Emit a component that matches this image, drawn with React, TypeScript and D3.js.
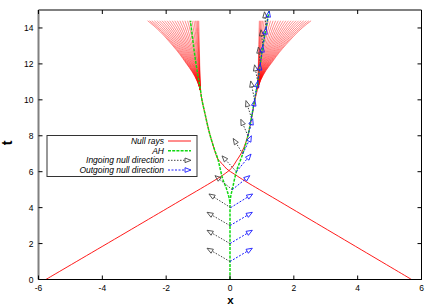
import React from 'react';
import * as d3 from 'd3';

type Pt = [number, number];

const W = 436;
const H = 305;

// axis ticks
const xTicks = [-6, -4, -2, 0, 2, 4, 6];
const tTicks = [0, 2, 4, 6, 8, 10, 12, 14];

// null ray trunks (x, t)
const rayRightward: Pt[] = [
  [-5.77, 0], [-1.5, 4.45], [-0.5, 5.5], [-0.15, 5.9], [0.05, 6.2], [0.2, 6.6],
  [0.36, 7.05], [0.5, 7.65], [0.6, 8.3], [0.7, 9.2], [0.78, 10.0], [0.87, 10.65],
];
const rayLeftward: Pt[] = [
  [5.69, 0], [1.5, 4.4], [0.5, 5.45], [0.15, 5.85], [-0.1, 6.15], [-0.25, 6.45],
  [-0.38, 6.7], [-0.5, 7.3], [-0.65, 8.2], [-0.78, 9.2], [-0.88, 10.0], [-0.93, 10.55],
];

// fans of rays peeling off the horizons
const fanLeftTip: Pt = [-0.93, 10.55];
const fanLeftTop: Pt = [-0.98, 14.4];
const fanRightTip: Pt = [0.87, 10.65];
const fanRightTop: Pt = [0.92, 14.4];
const fanLeftOffsets = [0, 0.03, 0.06, 0.1, 0.15, 0.21, 0.28, 0.35, 0.43, 0.51, 0.59, 0.67, 0.75, 0.83, 0.91, 0.99, 1.07, 1.15, 1.23, 1.31, 1.39, 1.47, 1.54, 1.6];
const fanRightOffsets = [0, 0.03, 0.06, 0.1, 0.15, 0.21, 0.28, 0.35, 0.43, 0.51, 0.59, 0.67, 0.75, 0.83, 0.91, 0.99, 1.07, 1.15, 1.23, 1.31, 1.39, 1.47, 1.55, 1.62];
// shape of the peel: fraction up the fan vs fraction of final offset
const fanProfile: Pt[] = [
  [0, 0], [0.13, 0.06], [0.26, 0.15], [0.39, 0.27], [0.52, 0.39],
  [0.65, 0.53], [0.78, 0.68], [0.9, 0.84], [1, 1],
];

// apparent horizon
const ahTrunk: Pt[] = [[0, 0], [0, 4.3]];
const ahLeft: Pt[] = [
  [0, 4.3], [-0.05, 4.7], [-0.12, 5.1], [-0.22, 5.55], [-0.3, 6.1], [-0.38, 6.7],
  [-0.5, 7.3], [-0.65, 8.2], [-0.78, 9.2], [-0.88, 10.0], [-0.93, 10.6],
  [-1.02, 11.5], [-1.12, 12.7], [-1.24, 14.4],
];
const ahRight: Pt[] = [
  [0, 4.3], [0.03, 4.7], [0.07, 5.0], [0.2, 6.0], [0.4, 7.0], [0.56, 8.0],
  [0.67, 9.0], [0.77, 10.0], [0.87, 11.0], [0.95, 12.0], [1.03, 13.0],
  [1.13, 14.0], [1.23, 15.0],
];

// null direction vectors on the AH
const arrowBase: Pt[] = [
  [0, 1], [0, 2], [0, 3], [0.02, 4], [0.07, 5], [0.2, 6], [0.4, 7],
  [0.56, 8], [0.67, 9], [0.77, 10], [0.87, 11], [0.95, 12], [1.03, 13], [1.13, 14],
];
const ingoingDir: Pt[] = [
  [-0.72, 0.74], [-0.72, 0.74], [-0.72, 0.74], [-0.68, 0.76], [-0.54, 0.78], [-0.45, 0.88],
  [-0.3, 0.85], [-0.22, 0.92], [-0.17, 0.96], [-0.12, 1.05], [-0.1, 0.95], [-0.06, 0.94],
  [-0.06, 0.9], [-0.05, 0.9],
];
const outgoingDir: Pt[] = [
  [0.7, 0.74], [0.7, 0.74], [0.7, 0.74], [0.69, 0.76], [0.55, 0.78], [0.46, 0.98],
  [0.27, 1.0], [0.15, 0.95], [0.11, 1.0], [0.1, 1.05], [0.08, 1.0], [0.08, 1.0],
  [0.1, 1.0], [0.1, 0.95],
];

const legendItems = ['Null rays', 'AH', 'Ingoing null direction', 'Outgoing null direction'];

const RED = '#ff0000';
const GREEN = '#11d911';
const GRAY = '#444444';
const BLUE = '#1a1aff';

const xs = d3.scaleLinear().domain([-6, 6]).range([38.5, 421.5]);
const ys = d3.scaleLinear().domain([0, 15]).range([279.5, 10]);

const line = d3.line<Pt>().x(d => xs(d[0])).y(d => ys(d[1]));
const smooth = d3.line<Pt>().x(d => xs(d[0])).y(d => ys(d[1])).curve(d3.curveCatmullRom.alpha(0.5));

function fanPath(tip: Pt, top: Pt, offset: number, sign: number) {
  const pts: Pt[] = fanProfile.map(([f, p]) => {
    const cx = tip[0] + (top[0] - tip[0]) * f;
    const t = tip[1] + (top[1] - tip[1]) * f;
    return [cx + sign * offset * p, t];
  });
  return smooth(pts) || '';
}

function Arrow({ base, dir, color, dash }: { base: Pt; dir: Pt; color: string; dash: string }) {
  const x0 = xs(base[0]);
  const y0 = ys(base[1]);
  const x1 = xs(base[0] + dir[0]);
  const y1 = ys(base[1] + dir[1]);
  const a = Math.atan2(y1 - y0, x1 - x0);
  const len = 6;
  const hw = 2.3;
  const bx = x1 - len * Math.cos(a);
  const by = y1 - len * Math.sin(a);
  const px = -Math.sin(a) * hw;
  const py = Math.cos(a) * hw;
  return (
    <g>
      <line x1={x0} y1={y0} x2={bx} y2={by} stroke={color} strokeWidth={1} strokeDasharray={dash} />
      <path d={`M${x1},${y1}L${bx + px},${by + py}L${bx - px},${by - py}Z`} fill="none" stroke={color} strokeWidth={0.9} />
    </g>
  );
}

export default function App() {
  const font = '"Liberation Sans", Arial, Helvetica, sans-serif';
  const left = xs(-6), right = xs(6), top = ys(15), bottom = ys(0);
  const legend = { x0: 47, x1: 197, y0: 135.5, y1: 176.5, rows: [141, 150.7, 160.3, 170], textX: 164, s0: 168, s1: 191 };

  return (
    <svg width={W} height={H} style={{ position: 'absolute', left: 0, top: 0, background: '#fff' }} fontFamily={font}>
      <rect width={W} height={H} fill="#fff" />
      <defs>
        <clipPath id="plot">
          <rect x={left} y={top} width={right - left} height={bottom - top} />
        </clipPath>
      </defs>

      <g clipPath="url(#plot)">
        {/* null rays */}
        <path d={smooth(rayRightward) || ''} fill="none" stroke={RED} strokeWidth={0.9} />
        <path d={smooth(rayLeftward) || ''} fill="none" stroke={RED} strokeWidth={0.9} />
        {fanLeftOffsets.map((o, i) => (
          <path key={'fl' + i} d={fanPath(fanLeftTip, fanLeftTop, o, -1)} fill="none" stroke={RED} strokeWidth={0.6} strokeOpacity={0.8} />
        ))}
        {fanRightOffsets.map((o, i) => (
          <path key={'fr' + i} d={fanPath(fanRightTip, fanRightTop, o, 1)} fill="none" stroke={RED} strokeWidth={0.6} strokeOpacity={0.8} />
        ))}

        {/* apparent horizon */}
        <path d={line(ahTrunk) || ''} fill="none" stroke={GREEN} strokeWidth={1.5} strokeDasharray="3,1.2" />
        <path d={smooth(ahLeft) || ''} fill="none" stroke={GREEN} strokeWidth={1.5} strokeDasharray="3,1.2" />
        <path d={smooth(ahRight) || ''} fill="none" stroke={GREEN} strokeWidth={1.5} strokeDasharray="3,1.2" />

        {/* null directions */}
        {arrowBase.map((b, i) => (
          <Arrow key={'in' + i} base={b} dir={ingoingDir[i]} color={GRAY} dash="1.5,1.5" />
        ))}
        {arrowBase.map((b, i) => (
          <Arrow key={'out' + i} base={b} dir={outgoingDir[i]} color={BLUE} dash="2,1.5" />
        ))}
      </g>

      {/* border */}
      <line x1={left} x2={right} y1={bottom} y2={bottom} stroke="#000" strokeWidth={1} />
      <line x1={right} x2={right} y1={top} y2={bottom} stroke="#000" strokeWidth={1} />
      <line x1={left} x2={right} y1={top} y2={top} stroke="#808080" strokeWidth={2} />
      <line x1={left} x2={left} y1={top} y2={bottom} stroke="#808080" strokeWidth={2} />

      {/* ticks */}
      {xTicks.map(v => (
        <g key={'xt' + v}>
          <line x1={xs(v)} x2={xs(v)} y1={bottom} y2={bottom - 4} stroke="#000" />
          <line x1={xs(v)} x2={xs(v)} y1={top} y2={top + 4} stroke="#000" />
          <text x={xs(v)} y={291.3} textAnchor="middle" fontSize={8.5}>{v}</text>
        </g>
      ))}
      {tTicks.map(v => (
        <g key={'yt' + v}>
          <line x1={left} x2={left + 4} y1={ys(v)} y2={ys(v)} stroke="#000" />
          <line x1={right} x2={right - 4} y1={ys(v)} y2={ys(v)} stroke="#000" />
          <text x={33.5} y={ys(v) + 3} textAnchor="end" fontSize={8.5}>{v}</text>
        </g>
      ))}

      {/* axis labels */}
      <text x={230.5} y={303.5} textAnchor="middle" fontSize={11.5} fontWeight="bold">x</text>
      <text transform="translate(12,143) rotate(-90)" textAnchor="middle" fontSize={14} fontWeight="bold">t</text>

      {/* legend */}
      <rect x={legend.x0} y={legend.y0} width={legend.x1 - legend.x0} height={legend.y1 - legend.y0} fill="#fff" stroke="#333" strokeWidth={1} />
      {legendItems.map((name, i) => (
        <text key={name} x={legend.textX} y={legend.rows[i] + 3} textAnchor="end" fontSize={8.5} fontStyle="italic">{name}</text>
      ))}
      <line x1={legend.s0} x2={legend.s1} y1={legend.rows[0]} y2={legend.rows[0]} stroke={RED} strokeWidth={0.9} />
      <line x1={legend.s0} x2={legend.s1} y1={legend.rows[1]} y2={legend.rows[1]} stroke={GREEN} strokeWidth={1.5} strokeDasharray="3,1.2" />
      <line x1={legend.s0} x2={legend.s1 - 6} y1={legend.rows[2]} y2={legend.rows[2]} stroke={GRAY} strokeDasharray="1.5,1.5" />
      <path d={`M${legend.s1},${legend.rows[2]}L${legend.s1 - 6},${legend.rows[2] - 2.3}L${legend.s1 - 6},${legend.rows[2] + 2.3}Z`} fill="none" stroke={GRAY} strokeWidth={0.9} />
      <line x1={legend.s0} x2={legend.s1 - 6} y1={legend.rows[3]} y2={legend.rows[3]} stroke={BLUE} strokeDasharray="2,1.5" />
      <path d={`M${legend.s1},${legend.rows[3]}L${legend.s1 - 6},${legend.rows[3] - 2.3}L${legend.s1 - 6},${legend.rows[3] + 2.3}Z`} fill="none" stroke={BLUE} strokeWidth={0.9} />
    </svg>
  );
}
